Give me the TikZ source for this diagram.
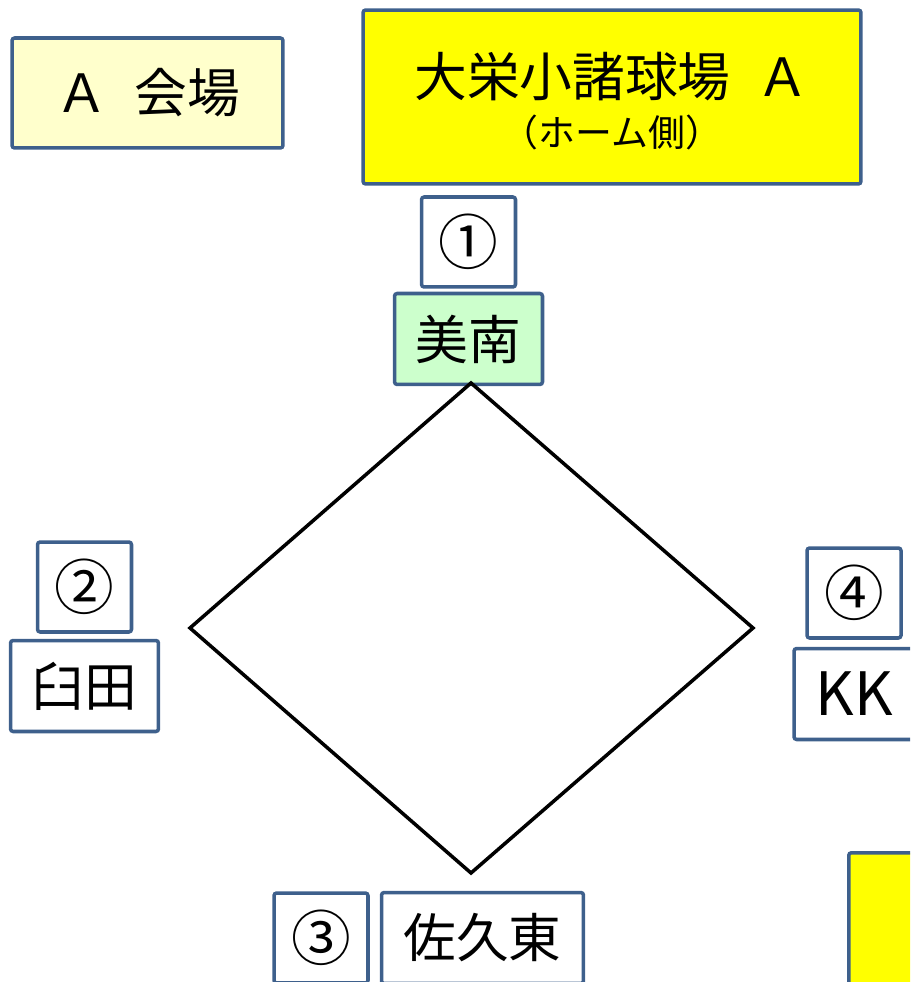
\documentclass[tikz,border=0pt]{standalone}
\usepackage{fontspec}
\setmainfont{Noto Sans CJK JP}
\usetikzlibrary{positioning}
\definecolor{rim}{RGB}{62,96,140}
\definecolor{paleyellow}{RGB}{255,255,204}
\definecolor{palegreen}{RGB}{204,255,204}
\definecolor{fieldyellow}{RGB}{255,255,0}
\begin{document}
\begin{tikzpicture}[x=0.02cm,y=-0.02cm,
    box/.style={draw=rim,line width=2pt,rounded corners=1.5pt,fill=white,inner sep=0pt,font=\fontsize{30}{34}\selectfont},
    numbox/.style={box,minimum width=1.88cm,minimum height=1.8cm,font=\fontsize{34}{36}\selectfont},
    teambox/.style={box,minimum width=2.96cm,minimum height=1.82cm}]

          \useasboundingbox (0,0) rectangle (910,982);
          \clip (0,0) rectangle (910,982);

          \node[box,fill=paleyellow,minimum width=5.42cm,minimum height=2.2cm]
                (venue) at (147.5,93) {Ａ\hspace{0.5em}会場};
          \node[box,fill=fieldyellow,minimum width=9.96cm,minimum height=3.48cm,align=center]
                (field) at (612,97) {\fontsize{30}{34}\selectfont\rule{0pt}{30pt}大栄小諸球場\hspace{0.5em}Ａ\\[-6pt]
                                     \fontsize{21}{24}\selectfont （ホーム側）};

          \node[numbox]  (n1) at (468.5,242)  {①};
          \node[teambox,fill=palegreen] (t1) [below=0.06cm of n1] {美南};
          \node[numbox]  (n2) at (84.5,587)   {②};
          \node[teambox] (t2) [below=0.1cm of n2] {臼田};
          \node[numbox]  (n4) at (854,593)    {④};
          \node[teambox,minimum width=2.4cm,font=\fontsize{34}{36}\selectfont] (t4) [below=0.14cm of n4] {KK};
          \node[numbox]  (n3) at (321,938)    {③};
          \node[teambox,minimum width=4.04cm] (t3) [right=0.2cm of n3] {佐久東};
          \node[box,fill=fieldyellow,anchor=north west,minimum width=3cm,minimum height=4cm]
                (next) at (847,851) {};

          \draw[line width=2pt,line join=miter]
                (471,383) -- (753,628) -- (471,873) -- (190,628) -- cycle;
        \end{tikzpicture}
\end{document}
